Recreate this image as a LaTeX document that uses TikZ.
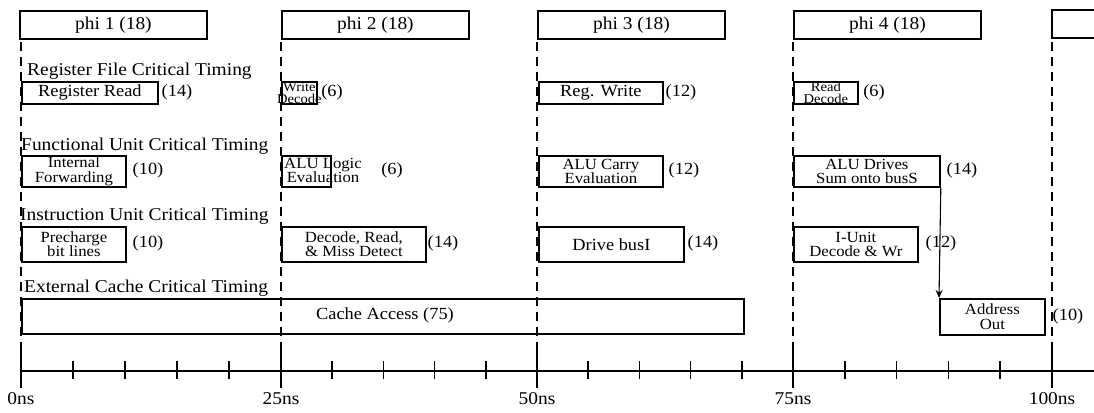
\documentclass[tikz,border=0pt]{standalone}
\usepackage{fontspec}
\setmainfont{Liberation Serif}[FakeStretch=1.08]
\usetikzlibrary{arrows.meta}
\begin{document}
\begin{tikzpicture}[x=1pt,y=-1pt,
  frame/.style={draw, line width=1.8pt, inner sep=0pt, anchor=north west},
  slot/.style={frame, fill=white},
  txt/.style={inner sep=0pt, align=center, font=\fontsize{17}{17}\selectfont},
  two/.style={inner sep=0pt, align=center, font=\fontsize{15.5}{14.5}\selectfont},
  small/.style={inner sep=0pt, align=center, font=\fontsize{13.5}{12.5}\selectfont},
  dur/.style={inner sep=0pt, font=\fontsize{17}{17}\selectfont},
  head/.style={inner sep=0pt, anchor=base west, font=\fontsize{18}{18}\selectfont},
  phase/.style={slot, minimum width=187pt, minimum height=28pt, font=\fontsize{18}{18}\selectfont},
  grid/.style={line width=1.2pt, dash pattern=on 9pt off 6pt},
  tick/.style={line width=1.7pt},
  feed/.style={line width=1.1pt, -{Stealth[length=8pt,width=7pt]}},
  ]
\useasboundingbox (0,0) rectangle (1094,412);

% dashed phase boundaries every 25 ns
\foreach \x in {21,281,537,793,1052}
  \draw[grid] (\x,42) -- (\x,371);

% clock phases
\node[phase] (p1) at (19,10) {phi 1 (18)};
\node[phase] (p2) at (281,10) {phi 2 (18)};
\node[phase] (p3) at (537,10) {phi 3 (18)};
\node[phase] (p4) at (793,10) {phi 4 (18)};
\draw[line width=1.8pt] (1094,10) -- (1052,10) -- (1052,38) -- (1094,38);

% register file
\node[head] (hrf) at (27,75) {Register File Critical Timing};
\node[slot, minimum width=136pt, minimum height=22pt] (rr) at (21,81) {};
\node[txt] (rrt) at (rr.center) {Register Read};
\node[dur] (rrd) at (177,92) {(14)};
\node[slot, minimum width=35pt, minimum height=22pt] (wd) at (281,81) {};
\node[small] (wdt) at (wd.center) {Write\\Decode};
\node[dur] (wdd) at (332,92) {(6)};
\node[slot, minimum width=124pt, minimum height=22pt] (rw) at (538,81) {};
\node[txt] (rwt) at (rw.center) {Reg. Write};
\node[dur] (rwd) at (681,92) {(12)};
\node[slot, minimum width=64pt, minimum height=22pt] (rd) at (793,81) {};
\node[small] (rdt) at (rd.center) {Read\\Decode};
\node[dur] (rdd) at (874,92) {(6)};

% functional unit
\node[head] (hfu) at (21,150) {Functional Unit Critical Timing};
\node[slot, minimum width=104pt, minimum height=31pt] (fw) at (21,155) {};
\node[two] (fwt) at (fw.center) {Internal\\Forwarding};
\node[dur] (fwd) at (148,170.5) {(10)};
\node[slot, minimum width=49pt, minimum height=31pt] (al) at (281,155) {};
\node[two, anchor=west] (alt) at (284,170.5) {ALU Logic\\Evaluation};
\node[dur] (ald) at (392,170.5) {(6)};
\node[slot, minimum width=124pt, minimum height=31pt] (ac) at (538,155) {};
\node[two] (act) at (ac.center) {ALU Carry\\Evaluation};
\node[dur] (acd) at (684,170.5) {(12)};
\node[slot, minimum width=146pt, minimum height=31pt] (as) at (793,155) {};
\node[two] (ast) at (as.center) {ALU Drives\\Sum onto busS};
\node[dur] (asd) at (962,170.5) {(14)};

% instruction unit
\node[head] (hiu) at (20,220) {Instruction Unit Critical Timing};
\node[slot, minimum width=104pt, minimum height=35pt] (pc) at (21,226) {};
\node[two] (pct) at (pc.center) {Precharge\\bit lines};
\node[dur] (pcd) at (148,243.5) {(10)};
\node[slot, minimum width=144pt, minimum height=35pt] (dm) at (281,226) {};
\node[two] (dmt) at (dm.center) {Decode, Read,\\\& Miss Detect};
\node[dur] (dmd) at (443,243.5) {(14)};
\node[slot, minimum width=145pt, minimum height=35pt] (db) at (538,226) {};
\node[txt] (dbt) at (db.center) {Drive busI};
\node[dur] (dbd) at (703,243.5) {(14)};
\node[slot, minimum width=124pt, minimum height=35pt] (iu) at (793,226) {};
\node[two] (iut) at (iu.center) {I-Unit\\Decode \& Wr};
\node[dur] (iud) at (941,243.5) {(12)};

% external cache
\node[head] (hec) at (24,292) {External Cache Critical Timing};
\node[frame, minimum width=722pt, minimum height=35pt] (ca) at (21,298) {};
\node[txt] (cat) at (385,315.5) {Cache Access (75)};
\node[slot, minimum width=105pt, minimum height=36pt] (ao) at (939,298) {};
\node[two] (aot) at (ao.center) {Address\\Out};
\node[dur] (aod) at (1068,316) {(10)};

% result bus feeds the address drivers
\draw[feed] (as.south east) -- (ao.north west);

% time axis
\coordinate (ax0) at (21,371);
\coordinate (ax1) at (1094,371);
\draw[line width=1.6pt] (ax0) -- (ax1);
\foreach \x/\t in {21/0ns,281/25ns,537/50ns,793/75ns,1052/100ns} {
  \draw[tick] (\x,351) -- (\x,388);
  \node[inner sep=0pt, font=\fontsize{18}{18}\selectfont] at (\x,399) {\t};
}
\foreach \a/\b in {21/281,281/537,537/793,793/1052}
  \foreach \k in {1,...,4}
    \draw[tick] ({\a+(\b-\a)*\k/5},361) -- ++(0,18);
\end{tikzpicture}
\end{document}
